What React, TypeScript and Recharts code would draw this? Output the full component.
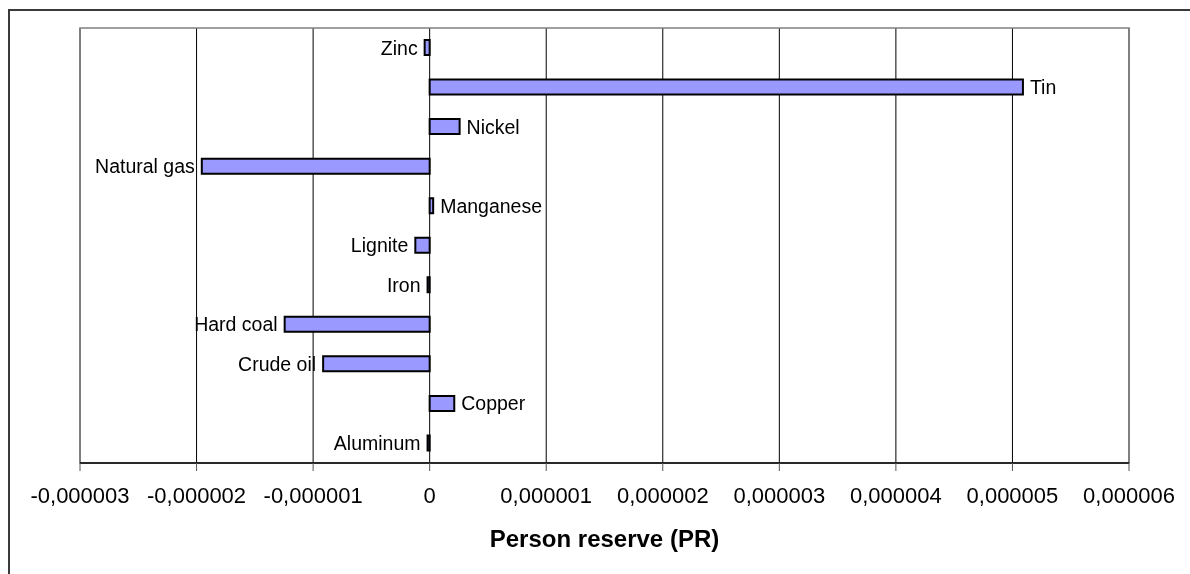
import { BarChart, Bar, XAxis, YAxis, CartesianGrid, LabelList, ReferenceArea } from "recharts";

const RESOURCES = [
  "Zinc",
  "Tin",
  "Nickel",
  "Natural gas",
  "Manganese",
  "Lignite",
  "Iron",
  "Hard coal",
  "Crude oil",
  "Copper",
  "Aluminum",
];

const PR_VALUES = [
  -0.000000043, 0.00000509, 0.000000257, -0.000001955, 0.00000003, -0.000000123, -0.000000018,
  -0.000001244, -0.000000914, 0.000000211, -0.000000018,
];

const X_TICKS = [-0.000003, -0.000002, -0.000001, 0, 0.000001, 0.000002, 0.000003, 0.000004, 0.000005, 0.000006];

const FONT = "Arial, 'Liberation Sans', sans-serif";

const rows = RESOURCES.map((name, i) => ({ name, pr: PR_VALUES[i] }));

const fmt = (v: number) => (v === 0 ? "0" : v.toFixed(6).replace(".", ","));

function BarLabel(props: any) {
  const { x, y, width, height, index, value } = props;
  const left = Math.min(x, x + width);
  const right = Math.max(x, x + width);
  const neg = PR_VALUES[index] < 0;
  return (
    <text
      x={neg ? left - 7 : right + 7}
      y={y + height / 2}
      textAnchor={neg ? "end" : "start"}
      dominantBaseline="central"
      fontFamily={FONT}
      fontSize={19.5}
      fill="#000"
    >
      {value}
    </text>
  );
}

function AxisTitle(props: any) {
  const { viewBox } = props;
  return (
    <text
      x={viewBox.x + viewBox.width / 2}
      y={viewBox.y + 84}
      textAnchor="middle"
      fontFamily={FONT}
      fontSize={24}
      fontWeight="bold"
      fill="#000"
    >
      Person reserve (PR)
    </text>
  );
}

export default function App() {
  return (
    <div style={{ position: "relative", width: 1174, height: 558 }}>
      <div
        style={{
          position: "fixed",
          left: 8,
          top: 9,
          width: 1400,
          height: 800,
          border: "2px solid #3a3a3a",
          boxSizing: "border-box",
          pointerEvents: "none",
        }}
      />
      <BarChart
        width={1174}
        height={558}
        data={rows}
        layout="vertical"
        margin={{ top: 20, right: 53, left: 72, bottom: 3 }}
      >
        <CartesianGrid horizontal={false} stroke="#000" strokeWidth={1} />
        <ReferenceArea x1={-0.000003} x2={0.000006} fill="none" stroke="#808080" strokeWidth={1.5} />
        <XAxis
          type="number"
          domain={[-0.000003, 0.000006]}
          ticks={X_TICKS}
          tickFormatter={fmt}
          interval={0}
          height={100}
          tickSize={8}
          tickMargin={16}
          axisLine={{ stroke: "#000", strokeWidth: 1.5 }}
          tickLine={{ stroke: "#555" }}
          tick={{ fontSize: 22, fontFamily: FONT, fill: "#000" }}
          label={<AxisTitle />}
        />
        <YAxis type="category" dataKey="name" hide />
        <Bar dataKey="pr" barSize={15} fill="#9999FF" stroke="#000" strokeWidth={2} isAnimationActive={false}>
          <LabelList dataKey="name" content={<BarLabel />} />
        </Bar>
      </BarChart>
    </div>
  );
}
